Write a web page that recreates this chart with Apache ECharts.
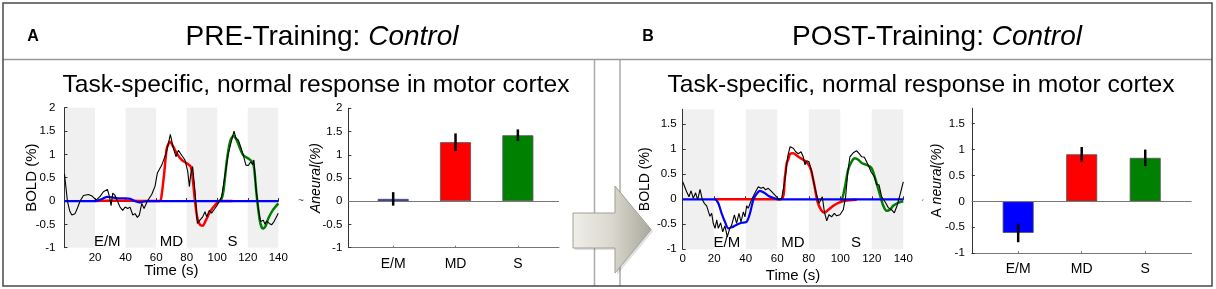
<!DOCTYPE html>
<html><head><meta charset="utf-8">
<script src="https://cdn.jsdelivr.net/npm/echarts@6/dist/echarts.min.js"></script>
<style>html,body{margin:0;padding:0;background:#fff}#c{width:1216px;height:289px}</style>
</head><body><div id="c"></div>
<script>
const FONT = '"Liberation Sans", Arial, sans-serif';

const categories = ['E/M', 'MD', 'S'];
const barColors = ['#0000ff', '#ff0000', '#008000'];
const timeTicksPre = [20, 40, 60, 80, 100, 120, 140];
const timeTicksPost = [0, 20, 40, 60, 80, 100, 120, 140];
const yTicksPre = [-1, -0.5, 0, 0.5, 1, 1.5, 2];
const yTicksPost = [-1, -0.5, 0, 0.5, 1, 1.5];
const blocks = [[0, 20], [40, 60], [80, 100], [120, 140]];
const phaseTimes = [28, 70, 110];
const phaseLevel = -0.88;

const preBlack = [[0,0.58],[1.9,0],[3.5,-0.22],[4.8,-0.3],[6.9,-0.27],[8.5,-0.15],[10.2,0],[12.4,0.12],[15.7,0.14],[18.3,0.1],[20.7,0.02],[23.3,0.1],[25.5,0.2],[28.1,0.25],[29.4,0.1],[30.5,-0.1],[31.6,0.17],[33.1,0.12],[34.6,0],[36.4,-0.13],[38.1,-0.2],[39.7,-0.13],[41.4,-0.16],[42.9,-0.13],[44.7,-0.3],[46.2,-0.27],[47.7,-0.35],[49.0,-0.3],[50.6,-0.05],[52.1,-0.16],[54.3,0],[57.1,0.14],[59.3,0.32],[60.8,0.6],[63.7,0.77],[66.5,1.02],[68.0,1.23],[69.3,1.43],[71.3,1.13],[73.0,0.95],[74.6,1.09],[76.7,0.98],[78.9,0.88],[80.7,0.63],[81.8,0.31],[82.6,0.56],[83.9,0.74],[85.5,0.2],[87.0,-0.48],[88.7,-0.41],[90.5,-0.34],[92.0,-0.23],[93.1,-0.34],[94.8,-0.2],[96.3,-0.26],[98.5,-0.16],[100.7,-0.05],[102.9,0.09],[105.1,0.56],[107.3,1.02],[109.5,1.31],[111.0,1.5],[112.3,1.34],[113.8,1.31],[115.4,1.16],[117.1,0.98],[118.8,0.77],[120.4,0.76],[121.9,0.84],[123.2,0.78],[124.0,0.88],[125.4,0.27],[126.9,-0.16],[128.4,-0.44],[130.2,-0.41],[131.3,-0.5],[132.3,-0.43],[134.1,-0.48],[135.6,-0.51],[137.2,-0.44],[138.5,-0.48],[140,-0.26]];
const preRed = [[20,0],[40,0.01],[50,0],[62.5,0],[63.6,0.13],[65.3,0.6],[67,1.13],[69.1,1.27],[71.3,1.16],[73.5,1.02],[76.7,0.88],[80,0.81],[82.6,0.74],[83.9,0.49],[85.5,-0.01],[87,-0.37],[88.7,-0.51],[90.5,-0.53],[92.6,-0.41],[95.3,-0.23],[98.5,-0.09],[101.8,0],[110,0]];
const preGreen = [[100,0],[101.8,0],[104,0.2],[106.2,0.84],[108.4,1.27],[110.6,1.4],[112.7,1.31],[114.9,1.13],[117.1,0.98],[120.4,0.91],[123.6,0.81],[125.8,0.13],[128,-0.44],[129.8,-0.59],[131.5,-0.55],[133.5,-0.37],[136.3,-0.2],[140,-0.05]];
const preBlue = [[0,0],[20,0],[22,0.01],[25,0.05],[28,0.09],[31,0.08],[35,0.06],[40,0.06],[43,0.05],[46,0],[49,-0.03],[52,-0.01],[55,0],[140,0]];

const postBlack = [[0,0.35],[2.5,0.15],[4,0.05],[5.3,0.17],[6.7,0.02],[8.2,0.13],[9.5,-0.01],[11,0.2],[12.5,-0.01],[13.7,-0.08],[15.2,-0.13],[16.3,-0.24],[17.3,-0.34],[18.4,-0.28],[19.4,-0.48],[20.5,-0.58],[21.6,-0.41],[22.6,-0.58],[24.1,-0.47],[25.4,-0.65],[26.8,-0.53],[28.3,-0.75],[29.6,-0.61],[31.1,-0.51],[32.8,-0.31],[34.2,-0.48],[35.7,-0.28],[37,-0.45],[38.5,-0.25],[39.5,-0.35],[40.6,-0.13],[41.6,-0.18],[43.7,-0.01],[45.9,0.13],[48,0.25],[49.7,0.22],[51.2,0.24],[52.6,0.19],[54.3,0.22],[56,0.17],[57.5,0.12],[59.6,0.05],[61.1,-0.01],[62.8,0.02],[64.9,0.4],[66.6,0.85],[68.1,1.05],[70.2,1.02],[71.7,0.95],[73.4,0.91],[75.1,0.95],[76.5,0.85],[77.6,0.69],[78.7,0.77],[80.2,0.75],[81.9,0.55],[83.5,0.29],[85,0.09],[86.5,-0.08],[88.6,0.05],[89.9,-0.25],[91.4,-0.43],[92.8,-0.31],[94.5,-0.35],[96.2,-0.28],[97.7,-0.33],[99.8,-0.31],[101.9,-0.21],[103.4,0.05],[104.7,0.52],[106.1,0.85],[108.2,0.93],[110.4,0.97],[111.9,0.92],[113.6,0.85],[115.3,0.84],[116.7,0.75],[118.2,0.65],[119.5,0.55],[120.7,0.59],[121.6,0.45],[123.1,0.29],[124.6,0.29],[126.3,0.05],[127.5,0.09],[128.8,-0.07],[130.5,-0.17],[132.6,-0.21],[134.3,-0.27],[135.8,-0.15],[137.9,0.09],[140,0.35]];
const postRed = [[20,0],[62.4,0],[64.9,0.45],[66,0.72],[67,0.8],[68.1,0.91],[70.2,0.92],[73.4,0.85],[76.5,0.79],[79.3,0.72],[81.4,0.59],[83.5,0.29],[85.6,-0.05],[87.8,-0.21],[89.9,-0.27],[92.4,-0.21],[95.6,-0.13],[98.8,-0.07],[103,-0.03],[110.4,-0.01]];
const postGreen = [[100,0],[100.8,-0.01],[102.9,0.24],[105,0.59],[107.1,0.75],[109.3,0.82],[111.4,0.79],[113.9,0.72],[116.7,0.69],[119.5,0.64],[120.9,0.55],[123.1,0.32],[125.2,0.09],[127.3,-0.13],[129.4,-0.23],[131.5,-0.21],[133.6,-0.13],[136.8,-0.07],[140,-0.04]];
const postBlue = [[0,0],[20.5,0],[22.6,-0.08],[24.7,-0.28],[26.8,-0.45],[28.9,-0.58],[31.1,-0.56],[34.2,-0.51],[37.4,-0.47],[40.6,-0.45],[42.7,-0.28],[44.8,-0.01],[46.9,0.11],[49,0.17],[51.8,0.13],[54.8,0.06],[58.1,0.02],[60.6,0],[140,0]];

const preBar = [0.05, 1.27, 1.42];
const preErr = [0.145, 0.19, 0.125];
const postBar = [-0.61, 0.91, 0.84];
const postErr = [0.18, 0.14, 0.16];

const AX = '#333', TXT = '#000';

function xLine(idx, ticks, nameGap) {
  return {
    gridIndex: idx, type: 'value', min: 0, max: 140,
    axisLine: {show: true, lineStyle: {color: AX, width: 1}},
    axisTick: {show: true, inside: true, length: 3, customValues: ticks, lineStyle: {color: AX}},
    axisLabel: {customValues: ticks, margin: 4, fontSize: 11.5, fontFamily: FONT, color: TXT},
    splitLine: {show: false},
    name: 'Time (s)', nameLocation: 'middle', nameGap: nameGap, nameMoveOverlap: false,
    nameTextStyle: {fontSize: 15, fontFamily: FONT, color: TXT}
  };
}
function yAxisCfg(idx, max, ticks, name, nameGap, margin, rich) {
  return {
    gridIndex: idx, type: 'value', min: -1, max: max,
    axisLine: {show: true, lineStyle: {color: AX, width: 1}},
    axisTick: {show: true, inside: true, length: 3, customValues: ticks, lineStyle: {color: AX}},
    axisLabel: {customValues: ticks, margin: margin, fontSize: 11.5, fontFamily: FONT, color: TXT},
    splitLine: {show: false},
    name: name, nameLocation: 'middle', nameGap: nameGap, nameRotate: 90, nameMoveOverlap: false,
    nameTextStyle: Object.assign({fontSize: 14, fontFamily: FONT, color: TXT}, rich || {})
  };
}
function xBar(idx, min, max) {
  return {
    gridIndex: idx, type: 'value', min: min, max: max,
    axisLine: {show: true, onZero: false, lineStyle: {color: '#777', width: 1}},
    axisTick: {show: true, inside: true, length: 2, customValues: [1, 2, 3], lineStyle: {color: '#777'}},
    axisLabel: {customValues: [1, 2, 3], margin: 9, fontSize: 14, fontFamily: FONT, color: TXT,
      formatter: v => categories[Math.round(v) - 1]},
    splitLine: {show: false}
  };
}
function bandSeries(idx, ymin, ymax) {
  return {
    type: 'custom', xAxisIndex: idx, yAxisIndex: idx, z: 0, silent: true,
    data: blocks,
    renderItem: (params, api) => {
      const p0 = api.coord([api.value(0), ymax]);
      const p1 = api.coord([api.value(1), ymin]);
      return {type: 'rect', shape: {x: p0[0], y: p0[1], width: p1[0] - p0[0], height: p1[1] - p0[1]},
        style: {fill: '#f0f0f0'}};
    }
  };
}
function lineS(idx, data, color, width, z, smooth) {
  return {type: 'line', xAxisIndex: idx, yAxisIndex: idx, data: data, showSymbol: false, symbol: 'none',
    smooth: smooth, z: z, silent: true, lineStyle: {color: color, width: width}};
}
function phaseS(idx) {
  return {type: 'scatter', xAxisIndex: idx, yAxisIndex: idx, symbol: 'circle', symbolSize: 0.1, z: 6, silent: true,
    itemStyle: {color: '#000', opacity: 1},
    data: phaseTimes.map((t, i) => ({value: [t, phaseLevel], name: categories[i]})),
    label: {show: true, position: 'inside', formatter: '{b}', fontSize: 15, fontFamily: FONT, color: '#000',
      textBorderWidth: 0, opacity: 1}};
}
function barS(idx, vals) {
  return {type: 'bar', xAxisIndex: idx, yAxisIndex: idx, barWidth: 31, z: 2, silent: true,
    data: vals.map((v, i) => ({value: [i + 1, v], itemStyle: {color: barColors[i], borderColor: '#555', borderWidth: 0.8}})),
    markLine: {silent: true, symbol: 'none', label: {show: false}, lineStyle: {color: '#777', type: 'solid', width: 1},
      data: [{yAxis: 0}]}};
}
function errS(idx, vals, errs) {
  return {type: 'custom', xAxisIndex: idx, yAxisIndex: idx, z: 5, silent: true,
    data: vals.map((v, i) => [i + 1, v, errs[i]]),
    renderItem: (params, api) => {
      const x = api.value(0), v = api.value(1), e = api.value(2);
      const a = api.coord([x, v + e]), b = api.coord([x, v - e]);
      return {type: 'line', shape: {x1: a[0], y1: a[1], x2: b[0], y2: b[1]}, style: {stroke: '#000', lineWidth: 2.5}};
    }};
}

const grids = [
  {left: 64.5, top: 107.7, width: 213.8, height: 140},
  {left: 348.3, top: 108.3, width: 210.7, height: 139.4},
  {left: 682.7, top: 109.3, width: 220.6, height: 140},
  {left: 971.8, top: 108.2, width: 219.8, height: 144.9}
];

const arrowPts = [[573,213],[615,213],[615,186],[651,229.5],[615,273],[615,248],[573,248]];
const center = {align: 'center', verticalAlign: 'middle', textAlign: 'center', textVerticalAlign: 'middle'};

const option = {
  animation: false,
  grid: grids,
  xAxis: [xLine(0, timeTicksPre, 16), xBar(1, 0.28, 3.66), xLine(2, timeTicksPost, 19), xBar(3, 0.27, 3.73)],
  yAxis: [
    yAxisCfg(0, 2, yTicksPre, 'BOLD (%)', 25, 9, {fontSize: 15}),
    yAxisCfg(1, 2, yTicksPre, 'Aneural(%)', 25, 6, {fontStyle: 'italic', fontSize: 14}),
    yAxisCfg(2, 1.8, yTicksPost, 'BOLD (%)', 31, 6, {fontSize: 14}),
    yAxisCfg(3, 1.8, yTicksPost, '{n|A }{i|neural(%)}', 28, 7, {fontSize: 14,
      rich: {n: {fontSize: 14, fontFamily: FONT, color: TXT}, i: {fontSize: 14, fontFamily: FONT, color: TXT, fontStyle: 'italic'}}})
  ],
  series: [
    bandSeries(0, -1, 2),
    lineS(0, preRed, '#ff0000', 2.5, 3, 0.25),
    lineS(0, preGreen, '#008000', 2.5, 3, 0.25),
    lineS(0, preBlue, '#0000ff', 2.2, 4, 0.25),
    lineS(0, preBlack, '#000000', 1.1, 5, false),
    phaseS(0),
    barS(1, preBar),
    errS(1, preBar, preErr),
    bandSeries(2, -1, 1.8),
    lineS(2, postRed, '#ff0000', 2.5, 3, 0.25),
    lineS(2, postGreen, '#008000', 2.5, 3, 0.25),
    lineS(2, postBlue, '#0000ff', 2.2, 4, 0.25),
    lineS(2, postBlack, '#000000', 1.1, 5, false),
    phaseS(2),
    barS(3, postBar),
    errS(3, postBar, postErr)
  ],
  graphic: [
    {type: 'line', z: 0, shape: {x1: 594.5, y1: 59.5, x2: 594.5, y2: 286}, style: {stroke: '#aaa', lineWidth: 1.5}},
    {type: 'line', z: 0, shape: {x1: 620, y1: 59.5, x2: 620, y2: 286}, style: {stroke: '#aaa', lineWidth: 1.5}},
    {type: 'line', z: 0, shape: {x1: 3, y1: 59.5, x2: 1212, y2: 59.5}, style: {stroke: '#999', lineWidth: 1.5}},
    {type: 'rect', z: 0, shape: {x: 3, y: 3, width: 1209, height: 283}, style: {fill: 'none', stroke: '#4a4a4a', lineWidth: 1.5}},
    {type: 'polygon', z: 1, shape: {points: arrowPts.map(p => [p[0] + 2, p[1] + 2])}, style: {fill: 'rgba(0,0,0,0.12)'}},
    {type: 'polygon', z: 1, shape: {points: arrowPts},
      style: {stroke: '#a0a097', lineWidth: 1,
        fill: {type: 'linear', x: 0, y: 0, x2: 1, y2: 0, colorStops: [
          {offset: 0, color: '#efeee8'}, {offset: 0.5, color: '#dad8ce'}, {offset: 1, color: '#a9a89c'}]}}},
    {type: 'text', z: 2, x: 33, y: 37, style: Object.assign({text: 'A', font: 'bold 16px ' + FONT, fill: '#000'}, center)},
    {type: 'text', z: 2, x: 648, y: 37, style: Object.assign({text: 'B', font: 'bold 16px ' + FONT, fill: '#000'}, center)},
    {type: 'text', z: 2, x: 322, y: 37, style: Object.assign({text: '{n|PRE-Training: }{i|Control}',
      rich: {n: {fontSize: 28, fontFamily: FONT, color: '#000'}, i: {fontSize: 28, fontFamily: FONT, color: '#000', fontStyle: 'italic'}}}, center)},
    {type: 'text', z: 2, x: 937, y: 37, style: Object.assign({text: '{n|POST-Training: }{i|Control}',
      rich: {n: {fontSize: 28, fontFamily: FONT, color: '#000'}, i: {fontSize: 28, fontFamily: FONT, color: '#000', fontStyle: 'italic'}}}, center)},
    {type: 'text', z: 2, x: 316, y: 85, style: Object.assign({text: 'Task-specific, normal response in motor cortex', font: '24.6px ' + FONT, fill: '#000'}, center)},
    {type: 'text', z: 2, x: 921, y: 85, style: Object.assign({text: 'Task-specific, normal response in motor cortex', font: '24.6px ' + FONT, fill: '#000'}, center)},
    {type: 'text', z: 2, x: 301, y: 201, style: Object.assign({text: '~', font: '10px ' + FONT, fill: '#444'}, center)},
    {type: 'text', z: 2, x: 923, y: 205, style: Object.assign({text: '\u00b4', font: '10px ' + FONT, fill: '#666'}, center)}
  ]
};
const chart = echarts.init(document.getElementById('c'), null, {renderer: 'canvas'});
chart.setOption(option);
</script></body></html>
